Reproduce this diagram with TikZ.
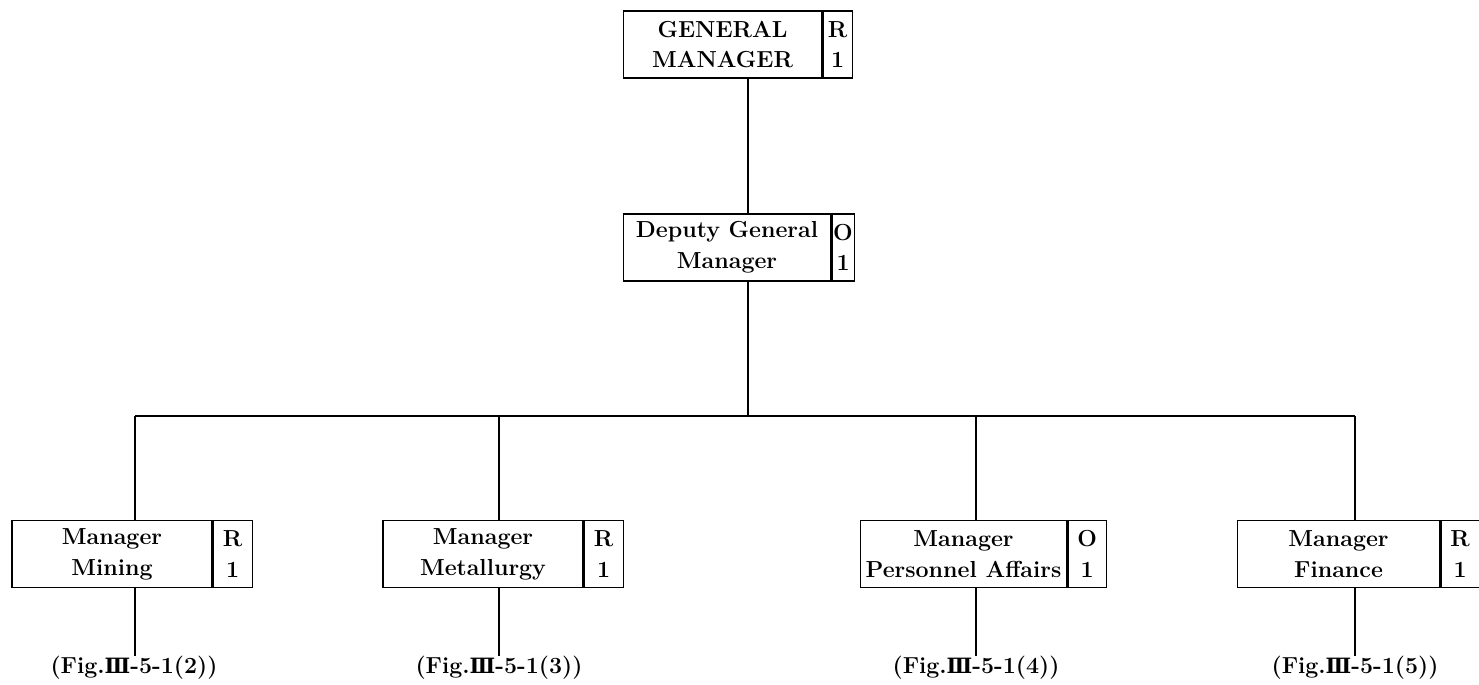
\documentclass[tikz,border=0pt]{standalone}
\usepackage{fontspec}
\usepackage{xcolor}
\usepackage{tikz}
\usetikzlibrary{positioning}
\newfontfamily\romfont{DejaVu Serif}
\newcommand{\figref}[1]{(Fig.{\romfont\bfseries\fontsize{12}{13}\selectfont Ⅲ}-5-1(#1))}

\begin{document}
\begin{tikzpicture}[x=0.02cm, y=-0.02cm, line width=0.6pt,
  txt/.style={font=\fontsize{13.2}{17.5}\selectfont\bfseries},
  post/.style={draw, txt, align=center, inner sep=0pt, minimum height=1.34cm},
  code/.style={draw, txt, align=center, inner sep=0pt, minimum height=1.34cm},
  figlabel/.style={txt, inner sep=0pt},
  stem/.style={line width=1.2pt}]
\useasboundingbox (0,0) rectangle (1479,684);

\node[post, minimum width=3.98cm] (gm) at (722.5,44.5) {GENERAL\\MANAGER};
\node[code, minimum width=0.58cm, right=0pt of gm] (gmc) {R\\1};

\node[post, minimum width=4.16cm] (dep) at (727,247.5) {Deputy General\\Manager};
\node[code, minimum width=0.44cm, right=0pt of dep] (depc) {O\\1};

\node[post, minimum width=4.00cm] (mining) at (112,554) {Manager\\Mining};
\node[code, minimum width=0.78cm, right=0pt of mining] (miningc) {R\\1};

\node[post, minimum width=4.00cm] (metal) at (483,554) {Manager\\Metallurgy};
\node[code, minimum width=0.78cm, right=0pt of metal] (metalc) {R\\1};

\node[post, minimum width=4.14cm] (pers) at (963.5,554) {Manager\\Personnel Affairs};
\node[code, minimum width=0.76cm, right=0pt of pers] (persc) {O\\1};

\node[post, minimum width=4.06cm] (fin) at (1338.5,554) {Manager\\Finance};
\node[code, minimum width=0.76cm, right=0pt of fin] (finc) {R\\1};

\node[figlabel] (fig2) at (134,668) {\figref{2}};
\node[figlabel] (fig3) at (499,668) {\figref{3}};
\node[figlabel] (fig4) at (976,668) {\figref{4}};
\node[figlabel] (fig5) at (1355,668) {\figref{5}};

% bus junctions
\coordinate (j0) at (748,416);
\coordinate (j1) at (135,416);
\coordinate (j2) at (499,416);
\coordinate (j3) at (976,416);
\coordinate (j4) at (1355,416);

\draw (gm.south -| j0) -- (dep.north -| j0);
\draw (dep.south -| j0) -- (j0);
\draw (j1) -- (j4);
\draw (j1) -- (mining.north -| j1);
\draw (j2) -- (metal.north -| j2);
\draw[stem] (j3) -- (pers.north -| j3);
\draw (j4) -- (fin.north -| j4);

\draw[stem] (mining.south -| j1) -- (fig2.north -| j1);
\draw[stem] (metal.south -| j2) -- (fig3.north -| j2);
\draw[stem] (pers.south -| j3) -- (fig4.north -| j3);
\draw[stem] (fin.south -| j4) -- (fig5.north -| j4);

\end{tikzpicture}
\end{document}
